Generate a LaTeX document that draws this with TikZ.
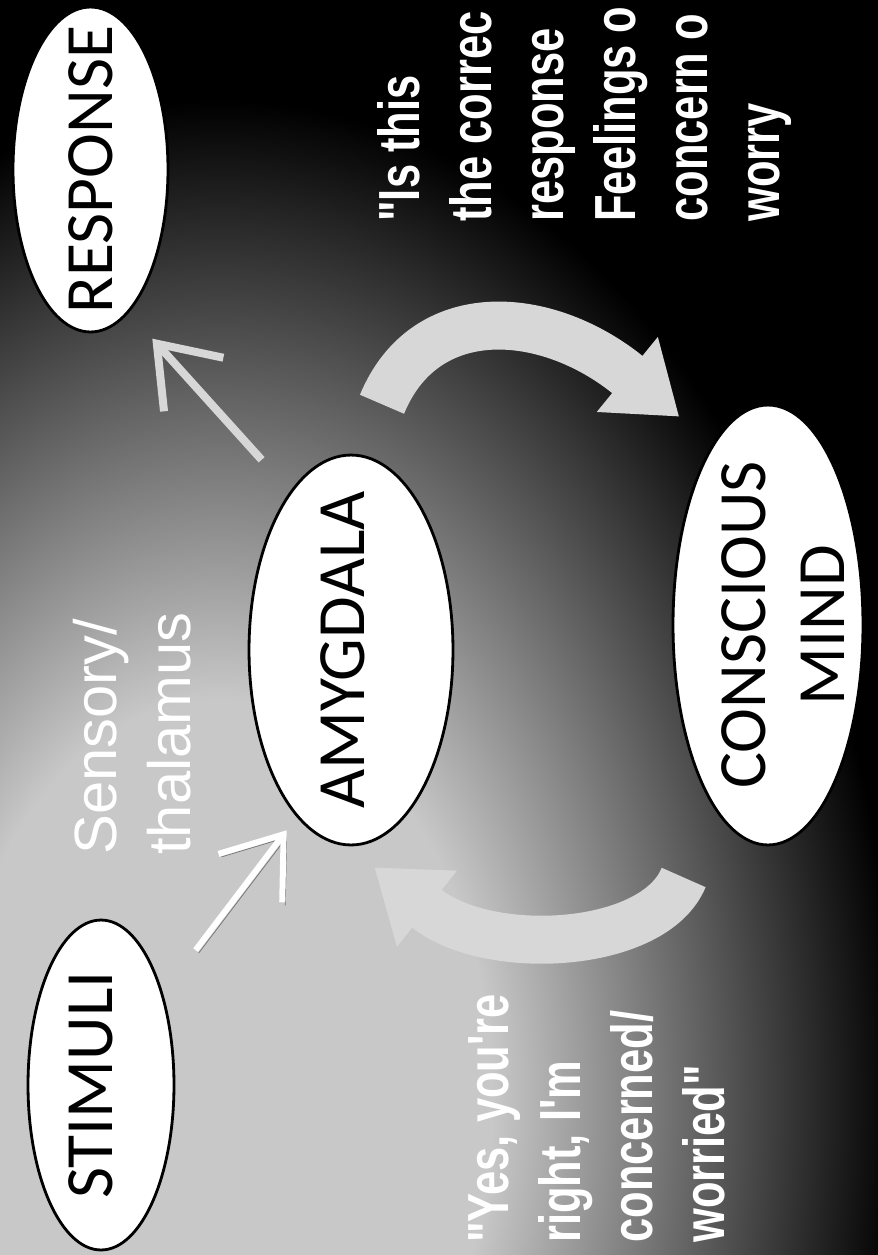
\documentclass[tikz,border=0pt]{standalone}
\usepackage{fontspec}
\usepackage{tikz}
\usetikzlibrary{arrows.meta, positioning, calc, shapes.geometric}

\newfontfamily\ovalfont{Carlito}
\newfontfamily\sayfont[FakeStretch=0.75]{Liberation Sans}
\newfontfamily\relayfont{Liberation Sans}

\definecolor{bglight}{RGB}{200,200,200}
\definecolor{bandgray}{RGB}{215,215,215}
\pgfdeclareradialshading{glow}{\pgfpoint{0bp}{0bp}}{color(0bp)=(bglight); color(10bp)=(bglight); color(25bp)=(black); color(50bp)=(black)}

\begin{document}
\begin{tikzpicture}[x=0.02cm, y=-0.02cm,
    oval/.style={ellipse, draw=black, line width=1.6pt, fill=white, inner sep=0pt, rotate=90},
    ovaltext/.style={font=\ovalfont\fontsize{38.5}{44.5}\selectfont, align=center, inner sep=0pt, rotate=90},
    saying/.style={font=\sayfont\bfseries\fontsize{33}{41}\selectfont, text=white, align=left, inner sep=0pt, anchor=north west, rotate=90},
    relay/.style={font=\relayfont\fontsize{34}{42}\selectfont, text=white, align=left, inner sep=0pt, anchor=north west, rotate=90},
    pointer/.style={line width=0.16cm, -{Straight Barb[length=1.1cm, width=1.6cm]}},
    band/.style={draw=bandgray, line width=0.96cm, -{Triangle[length=1.34cm, width=1.84cm]}},
    shadowed/.style={preaction={draw=black!55, transform canvas={shift={(0.06cm,-0.06cm)}}}},
]
    % fundo
    \useasboundingbox (0,0) rectangle (878,1255);
    \clip (0,0) rectangle (878,1255);
    \fill[black] (0,0) rectangle (878,1255);
    \shade[shading=glow] (220,1100) ellipse [x radius=13.6cm, y radius=20cm];

    % elipses
    \node[oval, minimum width=6.5cm, minimum height=3.1cm] (resp) at (90.5,169.5) {};
    \node[oval, minimum width=7.8cm, minimum height=4.08cm] (amyg) at (351,650) {};
    \node[oval, minimum width=8.8cm, minimum height=3.8cm] (consc) at (768,625) {};
    \node[oval, minimum width=6.6cm, minimum height=2.92cm] (stim) at (101,1085) {};

    \node[ovaltext] (resplabel) at (resp.center) {RESPONSE};
    \node[ovaltext] (amyglabel) at ([xshift=-0.16cm]amyg.center) {AMYGDALA};
    \node[ovaltext] (consclabel) at ([xshift=0.3cm]consc.center) {CONSCIOUS\\MIND};
    \node[ovaltext] (stimlabel) at ([xshift=-0.2cm]stim.center) {STIMULI};

    % setas finas
    \draw[pointer, draw=white, line width=0.12cm, shadowed, shorten <=1.08cm, shorten >=0.33cm] (stim.326) -- (amyg.162);
    \draw[pointer, draw=bandgray, shorten <=0.85cm, shorten >=0.7cm] (amyg.21) -- (resp.195);

    % setas largas
    \coordinate (topfoot) at ($(amyg.357)!1.09cm!(425,300)$);
    \coordinate (toptip) at ($(consc.17)!0.86cm!(628,375)$);
    \draw[band] (topfoot) .. controls (425,300) and (546,309) .. (628,375) -- (toptip);

    \coordinate (lowfoot) at ($(consc.163)!1.54cm!(654.4,949.4)$);
    \coordinate (lowtip) at ($(amyg.179)!0.68cm!(426,908)$);
    \draw[band] (lowfoot) .. controls (654.4,949.4) and (488.4,958.2) .. (426,908) -- (lowtip);

    % textos
    \node[relay] (thal) at (73,855) {Sensory/\\thalamus};
    \node[saying] (askq) at (377,222) {"Is this\\the correc\\response\\Feelings o\\concern o\\worry};
    \node[saying] (yesq) at (468,1243) {"Yes, you're\\right, I'm\\concerned/\\worried"};
\end{tikzpicture}
\end{document}
